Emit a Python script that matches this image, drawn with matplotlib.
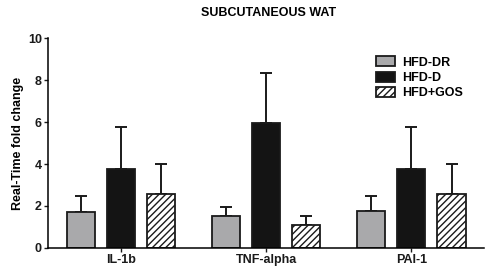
import numpy as np
import matplotlib
matplotlib.use("Agg")
import matplotlib.pyplot as plt

plt.rcParams['font.family'] = ['Liberation Sans', 'DejaVu Sans']
plt.rcParams['hatch.linewidth'] = 1.0

genes = ['IL-1b', 'TNF-alpha', 'PAI-1']
groups = ['HFD-DR', 'HFD-D', 'HFD+GOS']
means = {
    'HFD-DR': [1.72, 1.53, 1.74],
    'HFD-D': [3.78, 5.95, 3.78],
    'HFD+GOS': [2.57, 1.10, 2.57],
}
errs = {
    'HFD-DR': [0.76, 0.44, 0.74],
    'HFD-D': [1.99, 2.40, 1.99],
    'HFD+GOS': [1.42, 0.41, 1.42],
}

fs = 9

fig = plt.figure(figsize=(4.86, 2.68), dpi=100)
ax = fig.add_axes([0.099, 0.075, 0.897, 0.782])

x = np.arange(len(genes))
w = 0.193
offs = [-0.276, 0, 0.276]
faces = ['#a9a9ab', '#141414', 'white']
hatches = [None, None, '/////']

for g, off, fc, h in zip(groups, offs, faces, hatches):
    ax.bar(x + off, means[g], w, color=fc, edgecolor='#1a1a1a', linewidth=1.3,
           hatch=h, label=g, zorder=2)
    ax.errorbar(x + off, means[g], yerr=[np.zeros(3), errs[g]], fmt='none',
                ecolor='#1a1a1a', elinewidth=1.4, capsize=4.5, capthick=1.4, zorder=1)

ax.set_xlim(-0.5, 2.5)
ax.set_ylim(0, 10)
ax.set_yticks([0, 2, 4, 6, 8, 10])
ax.set_xticks(x)
ax.set_xticklabels(genes, fontweight='bold', fontsize=fs)
for t in ax.get_yticklabels():
    t.set_fontweight('bold')
    t.set_fontsize(fs)
ax.tick_params(axis='both', direction='out', length=3, width=1, colors='#1a1a1a', pad=1.5)
ax.spines['top'].set_visible(False)
ax.spines['right'].set_visible(False)
ax.spines['left'].set_linewidth(1.1)
ax.spines['bottom'].set_linewidth(1.1)
ax.set_ylabel('Real-Time fold change', fontweight='bold', fontsize=fs, labelpad=3)
fig.suptitle('SUBCUTANEOUS WAT', fontweight='bold', fontsize=fs, x=0.552, y=0.975)

ax.legend(loc='upper left', bbox_to_anchor=(0.738, 0.944), frameon=False,
          prop={'weight': 'bold', 'size': fs}, handlelength=1.5, handleheight=0.85,
          labelspacing=0.25, handletextpad=0.6, borderpad=0)

fig.savefig('out.png', dpi=100)
